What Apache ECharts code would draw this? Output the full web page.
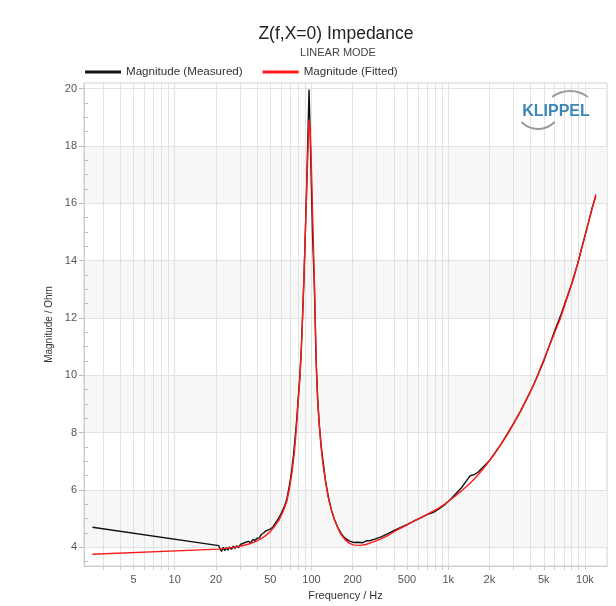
<!DOCTYPE html>
<html>
<head>
<meta charset="utf-8">
<script src="https://cdn.jsdelivr.net/npm/echarts@6/dist/echarts.min.js"></script>
<style>
  html, body { margin: 0; padding: 0; background: #fff; }
  #chart { width: 616px; height: 606px; }
</style>
</head>
<body>
<div id="chart"></div>
<script>
// measured impedance magnitude (Hz, Ohm)
const measuredFreq = [2.5, 21, 21.5, 22, 22.6, 23.2, 23.8, 24.5, 25.2, 26, 26.8, 27.6, 28.4, 29.3, 30.2, 31.2, 32.3, 33.4, 34.6, 35.9, 37.2, 38.6, 40, 41.5, 43, 44.6, 46.2, 48, 50, 52, 54, 56, 58, 60, 62, 64, 66, 68, 70, 72, 74, 76, 78, 80, 82, 84, 86, 88, 90, 92, 94, 96, 98, 100, 102, 105, 108, 111, 114, 118, 122, 127, 133, 140, 147, 155, 165, 175, 190, 205, 220, 235, 250, 270, 290, 320, 360, 400, 450, 500, 560, 630, 700, 780, 860, 950, 1050, 1150, 1250, 1350, 1450, 1550, 1650, 1800, 2000, 2200, 2450, 2700, 3000, 3350, 3700, 4100, 4500, 5000, 5500, 6000, 6600, 7300, 8000, 8800, 9600, 10500, 11300, 12000]
const measuredMag = [4.70, 4.06, 3.93, 3.86, 4.00, 3.88, 3.99, 3.90, 4.02, 3.93, 4.04, 3.96, 4.06, 3.99, 4.10, 4.05, 4.16, 4.10, 4.21, 4.16, 4.27, 4.24, 4.32, 4.33, 4.45, 4.50, 4.57, 4.60, 4.64, 4.70, 4.82, 4.93, 5.05, 5.18, 5.33, 5.48, 5.68, 6.00, 6.35, 6.75, 7.25, 7.85, 8.45, 9.20, 9.90, 10.8, 12.0, 13.3, 14.8, 16.4, 18.2, 19.97, 18.3, 16.5, 14.8, 13.1, 10.6, 9.2, 8.3, 7.5, 6.95, 6.30, 5.75, 5.30, 4.98, 4.72, 4.48, 4.33, 4.22, 4.17, 4.18, 4.16, 4.22, 4.24, 4.29, 4.36, 4.47, 4.58, 4.70, 4.79, 4.92, 5.03, 5.14, 5.22, 5.35, 5.50, 5.70, 5.90, 6.08, 6.30, 6.50, 6.54, 6.62, 6.80, 7.02, 7.30, 7.62, 7.95, 8.32, 8.72, 9.12, 9.55, 9.98, 10.50, 11.05, 11.55, 12.05, 12.65, 13.20, 13.85, 14.55, 15.25, 15.85, 16.25]

// fitted model magnitude (Hz, Ohm)
const fittedFreq = [2.5, 21, 24, 27, 30, 34, 38, 42, 46, 50, 54, 58, 62, 66, 69, 72, 75, 78, 80, 82.6, 84.5, 86.4, 88.5, 90.5, 92.5, 94.5, 96, 98, 100, 102, 105, 107, 109, 111, 114, 117, 121, 127, 133, 140, 147, 155, 163, 175, 190, 205, 227, 250, 280, 320, 370, 420, 500, 590, 700, 826, 950, 1092, 1250, 1445, 1620, 1811, 2143, 2685, 3360, 4200, 5260, 6590, 8240, 10320, 12020]
const fittedMag = [3.76, 3.94, 3.97, 4.00, 4.04, 4.10, 4.18, 4.28, 4.40, 4.55, 4.74, 4.96, 5.25, 5.60, 6.05, 6.60, 7.30, 8.30, 9.10, 10.0, 11.0, 12.2, 13.7, 15.2, 16.7, 18.0, 18.92, 18.5, 17.2, 15.6, 13.3, 11.6, 10.0, 9.1, 8.3, 7.6, 6.95, 6.25, 5.72, 5.30, 4.98, 4.70, 4.48, 4.28, 4.14, 4.08, 4.07, 4.10, 4.18, 4.29, 4.44, 4.60, 4.78, 4.97, 5.15, 5.33, 5.52, 5.74, 5.97, 6.24, 6.48, 6.75, 7.21, 7.91, 8.72, 9.65, 10.81, 11.97, 13.36, 15.1, 16.31]

// axis ticks
const freqLabels = [5, 10, 20, 50, 100, 200, 500, 1000, 2000, 5000, 10000]
const freqGrid = [3, 4, 5, 6, 7, 8, 9, 10, 20, 30, 40, 50, 60, 70, 80, 90, 100, 200, 300, 400, 500, 600, 700, 800, 900, 1000, 2000, 3000, 4000, 5000, 6000, 7000, 8000, 9000, 10000]
const magTicks = [4, 6, 8, 10, 12, 14, 16, 18, 20]
const magMinor = [3.5, 4.5, 5, 5.5, 6.5, 7, 7.5, 8.5, 9, 9.5, 10.5, 11, 11.5, 12.5, 13, 13.5, 14.5, 15, 15.5, 16.5, 17, 17.5, 18.5, 19, 19.5]

const zip = (xs, ys) => xs.map((x, i) => [x, ys[i]])

const chart = echarts.init(document.getElementById('chart'))

const font = 'Liberation Sans, Arial, sans-serif'
const labelColor = '#555'
const gridColor = '#e2e2e2'

const option = {
  animation: false,
  backgroundColor: '#fff',
  textStyle: { fontFamily: font },
  grid: { left: 84, right: 9, top: 83, bottom: 39, show: true, borderColor: '#cfcfcf', borderWidth: 1 },
  legend: {
    left: 85,
    top: 66,
    padding: 0,
    icon: 'rect',
    itemWidth: 36,
    itemHeight: 3,
    itemGap: 20,
    textStyle: { fontSize: 11.6, color: '#333' },
    data: ['Magnitude (Measured)', 'Magnitude (Fitted)']
  },
  graphic: [
    {
      type: 'text', x: 336, y: 34, z: 10,
      style: { text: 'Z(f,X=0) Impedance', align: 'center', verticalAlign: 'middle', fontSize: 17.5, fill: '#222', fontFamily: font }
    },
    {
      type: 'text', x: 338, y: 53, z: 10,
      style: { text: 'LINEAR MODE', align: 'center', verticalAlign: 'middle', fontSize: 11, fill: '#444', fontFamily: font }
    },
    // logo
    {
      type: 'text', x: 556, y: 112, z: 10,
      style: { text: 'KLIPPEL', align: 'center', verticalAlign: 'middle', fontSize: 16, fontWeight: 'bold', fill: '#3d86b8', fontFamily: font }
    },
    {
      type: 'arc', z: 10,
      shape: { cx: 570, cy: 121, r: 30, startAngle: -2.21, endAngle: -0.93 },
      style: { stroke: '#9a9a9a', lineWidth: 2, fill: null }
    },
    {
      type: 'arc', z: 10,
      shape: { cx: 538, cy: 106, r: 23, startAngle: 0.77, endAngle: 2.37 },
      style: { stroke: '#9a9a9a', lineWidth: 2, fill: null }
    }
  ],
  xAxis: {
    type: 'log',
    logBase: 10,
    min: 2.17,
    max: 14500,
    name: 'Frequency / Hz',
    nameLocation: 'middle',
    nameGap: 24,
    nameTextStyle: { fontSize: 11, color: '#333' },
    axisLine: { show: true, lineStyle: { color: '#cfcfcf' } },
    axisTick: { show: true, customValues: freqGrid, length: 4, lineStyle: { color: '#cfcfcf' } },
    axisLabel: {
      customValues: freqLabels,
      fontSize: 11,
      color: labelColor,
      margin: 8,
      formatter: v => (v >= 1000 ? (v / 1000) + 'k' : String(v))
    },
    splitLine: { show: true, lineStyle: { color: gridColor, width: 1 } },
    minorTick: { show: false }
  },
  yAxis: [
    {
      type: 'value',
      min: 3.35,
      max: 20.2,
      name: 'Magnitude / Ohm',
      nameLocation: 'middle',
      nameGap: 28,
      nameTextStyle: { fontSize: 10, color: '#333' },
      axisLine: { show: true, lineStyle: { color: '#cfcfcf' } },
      axisTick: { show: true, customValues: magTicks, length: 5, lineStyle: { color: '#bbb' } },
      axisLabel: { customValues: magTicks, fontSize: 11, color: labelColor, margin: 7 },
      splitLine: { show: true, lineStyle: { color: gridColor, width: 1 } },
      splitArea: { show: true, areaStyle: { color: ['#f7f7f7', 'rgba(255,255,255,0)'] } }
    },
    {
      type: 'value',
      min: 3.35,
      max: 20.2,
      position: 'left',
      axisLine: { show: false },
      axisTick: { show: true, inside: true, customValues: magMinor, length: 4, lineStyle: { color: '#bbb' } },
      axisLabel: { show: false },
      splitLine: { show: false }
    }
  ],
  series: [
    {
      name: 'Magnitude (Measured)',
      type: 'line',
      data: zip(measuredFreq, measuredMag),
      showSymbol: false,
      symbol: 'none',
      color: '#111',
      lineStyle: { color: '#111', width: 1.4 },
      z: 3
    },
    {
      name: 'Magnitude (Fitted)',
      type: 'line',
      data: zip(fittedFreq, fittedMag),
      showSymbol: false,
      symbol: 'none',
      color: '#ff1a1a',
      lineStyle: { color: '#ff1a1a', width: 1.4 },
      z: 4
    }
  ]
}

chart.setOption(option)
</script>
</body>
</html>
